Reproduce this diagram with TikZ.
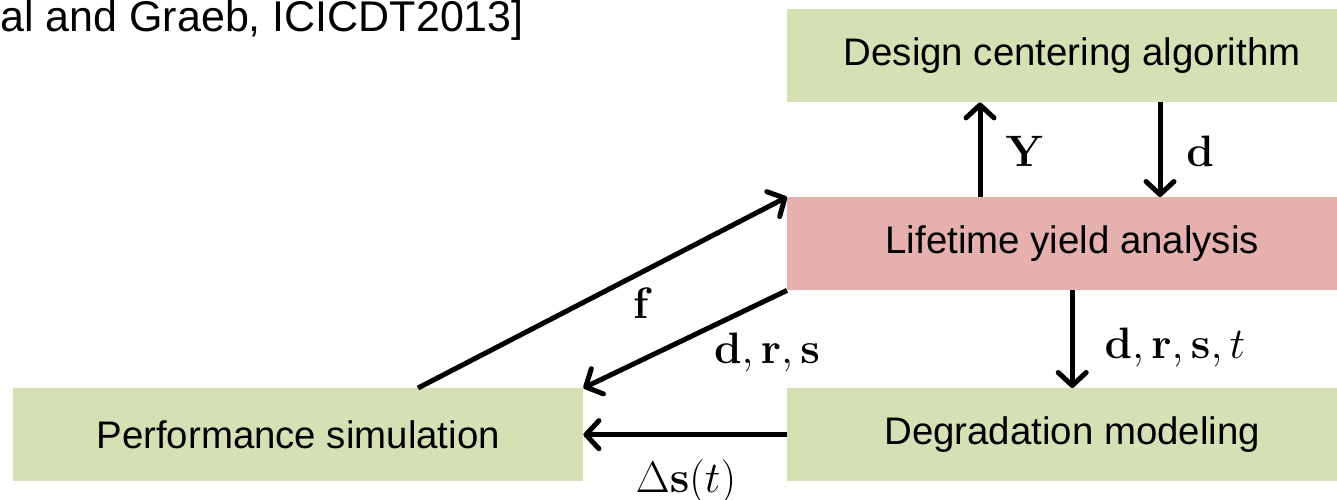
\RequirePackage{fix-cm}
\documentclass[tikz,border=0pt]{standalone}
\usepackage[no-math]{fontspec}
\newfontfamily\arial{Liberation Sans}
\usetikzlibrary{arrows.meta}
\definecolor{boxgreen}{HTML}{D5E0B5}
\definecolor{boxpink}{HTML}{E5B0AD}
\begin{document}
\begin{tikzpicture}[x=1pt,y=-1pt,
  block/.style={rectangle, minimum width=570pt, minimum height=93pt,
    inner sep=0pt, anchor=north west,
    font=\arial\fontsize{38.4}{46}\selectfont},
  flow/.style={line width=5pt, -{Straight Barb[length=13pt,width=28pt,round]}},
  lab/.style={anchor=base, inner sep=0pt, font=\fontsize{44}{52}\selectfont}]
  \clip (0,0) rectangle (1337,500);

  % citation
  \node[anchor=base east, inner sep=0pt, font=\arial\fontsize{43}{50}\selectfont]
    (cite) at (524,32) {al and Graeb, ICICDT2013]};

  % blocks
  \node[block, fill=boxgreen] (dca)  at (787,9)   {Design centering algorithm};
  \node[block, fill=boxpink]  (lya)  at (787,197) {Lifetime yield analysis};
  \node[block, fill=boxgreen] (deg)  at (787,388) {Degradation modeling};
  \node[block, fill=boxgreen] (perf) at (13,388)  {Performance simulation};

  % flows
  \draw[flow] ([xshift=193pt]lya.north west) -- ([xshift=193pt]dca.south west);
  \draw[flow] ([xshift=373pt]dca.south west) -- ([xshift=373pt]lya.north west);
  \draw[flow] (lya.south) -- (deg.north);
  \draw[flow] ([xshift=405pt]perf.north west) -- (lya.north west);
  \draw[flow] (lya.south west) -- (perf.north east);
  \draw[flow] (deg.west) -- (perf.east);

  % flow labels
  \node[lab] (lY)    at (1025,166) {$\mathbf{Y}$};
  \node[lab] (ld)    at (1200,166) {$\mathbf{d}$};
  \node[lab] (ldrst) at (1175,358) {$\mathbf{d},\mathbf{r},\mathbf{s},t$};
  \node[lab] (lf)    at (643,318)  {$\mathbf{f}$};
  \node[lab] (ldrs)  at (767,363)  {$\mathbf{d},\mathbf{r},\mathbf{s}$};
  \node[lab] (lds)   at (686,492)  {$\Delta\mathbf{s}(t)$};
\end{tikzpicture}
\end{document}
